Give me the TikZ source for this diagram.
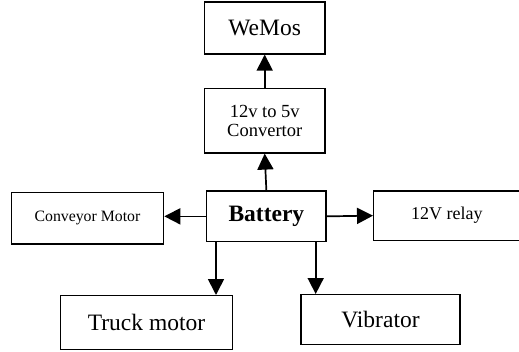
\documentclass[tikz,border=0pt]{standalone}
\usepackage{fontspec}
\setmainfont{Liberation Serif}
\usepackage{tikz}
\usetikzlibrary{arrows.meta,positioning}

\begin{document}
\begin{tikzpicture}[
  box/.style={rectangle,draw=black,fill=white,line width=1.4pt,inner sep=0pt,
    align=center,font=\fontsize{23.5}{26}\selectfont},
  arrow/.style={-{Triangle[length=16pt,width=16pt]},line width=1.7pt}
]
\useasboundingbox (0,0) rectangle (519pt,351pt);
\node[box,minimum width=119.3pt,minimum height=50.7pt] (bat) at (266.35pt,134.65pt) {\textbf{Battery}};
\node[box,minimum width=120.7pt,minimum height=64.3pt,above=36.7pt of bat,xshift=-1.65pt,
  font=\fontsize{18.5}{19}\selectfont] (cvt) {12v to 5v\\ Convertor};
\node[box,minimum width=120.7pt,minimum height=52pt,above=33.3pt of cvt] (wm) {WeMos};
\node[box,minimum width=152.3pt,minimum height=51.3pt,left=41.7pt of bat,yshift=-2pt,
  font=\fontsize{15.8}{18}\selectfont] (cmot) {\raisebox{4pt}{Conveyor Motor}};
\node[box,minimum width=146.2pt,minimum height=49.3pt,right=46.3pt of bat,yshift=0.7pt,
  font=\fontsize{18}{20}\selectfont] (rly) {12V relay};
\node[box,minimum width=171.6pt,minimum height=54pt,below=52.6pt of bat,xshift=-119.85pt] (tmot) {Truck motor};
\node[box,minimum width=159pt,minimum height=50pt,below=51.6pt of bat,xshift=114.15pt] (vib) {Vibrator};

% arrows out of the battery
\draw[arrow] (bat.north) -- (cvt.south);
\draw[arrow] (cvt.north) -- (wm.south);
\draw[arrow] (bat.west) -- (bat.west -| cmot.east);
\draw[arrow] (bat.east) -- (rly.west);
\draw[arrow] ([xshift=10pt]bat.south west) -- ([xshift=10pt]bat.south west |- tmot.north);
\draw[arrow] ([xshift=-11pt]bat.south east) -- ([xshift=-11pt]bat.south east |- vib.north);
\end{tikzpicture}
\end{document}
